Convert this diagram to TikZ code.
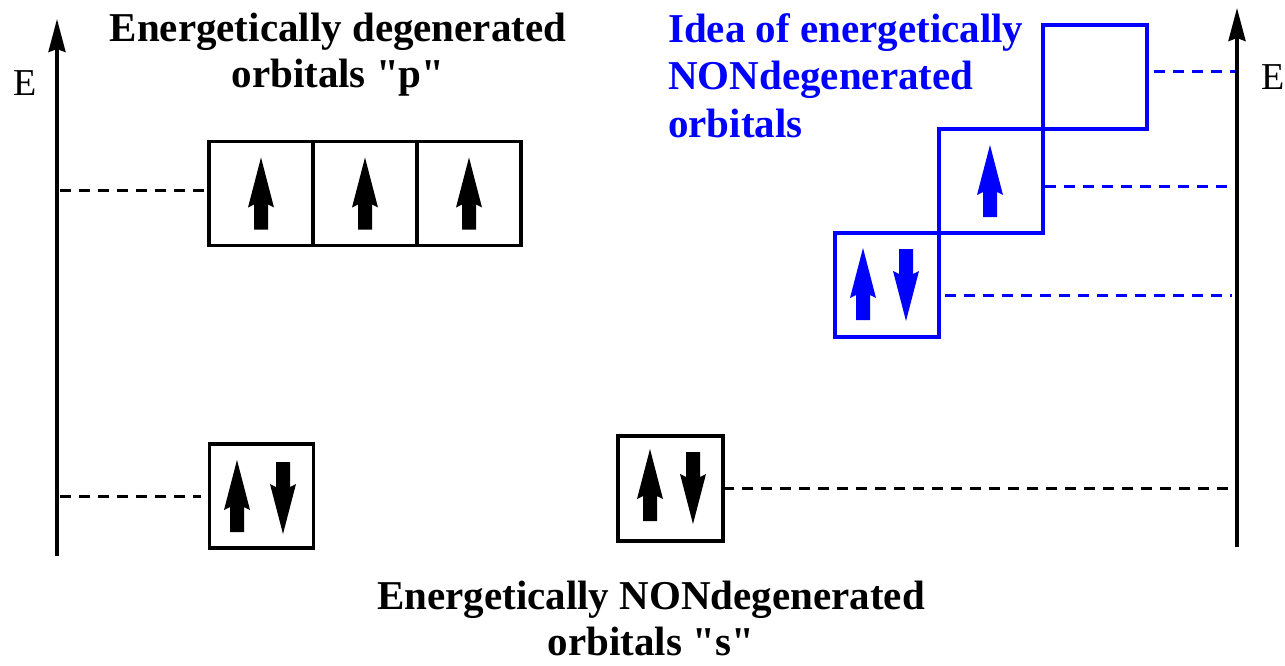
\documentclass[tikz,border=0pt]{standalone}
\usepackage{fontspec}
\setmainfont{Liberation Serif}
\usetikzlibrary{arrows.meta, calc, positioning}
\tikzset{
    orb/.style = {draw, line width=3.5pt, minimum width=104pt, minimum height=104pt, inner sep=0pt, outer sep=0pt},
    level/.style = {line width=3pt, dash pattern=on 11pt off 8pt},
    axis/.style = {line width=3.5pt, -{Stealth[length=33pt, width=17pt, inset=3pt]}},
    title/.style = {font=\fontsize{41}{46}\selectfont\bfseries, inner sep=0pt, align=center},
    elabel/.style = {font=\fontsize{38}{40}\selectfont, inner sep=0pt},
    spin/.pic = {\fill (-7,36) -- (-7,11) -- (-13,14) -- (0,-36) -- (13,14) -- (7,11) -- (7,36) -- cycle;}
}
\begin{document}
\begin{tikzpicture}[x=1pt, y=-1pt]
  \useasboundingbox (0,0) rectangle (1285,666);

  % energy axes
  \coordinate (l0) at (57,556);
  \coordinate (l1) at (57,19);
  \coordinate (r0) at (1237,547);
  \coordinate (r1) at (1237,8);
  \draw[axis] (l0) -- (l1);
  \draw[axis] (r0) -- (r1);
  \node[elabel] (el) at (25,83) {E};
  \node[elabel] (er) at (1273,77) {E};

  % degenerated p orbitals
  \node[title, anchor=north] (tp) at (338,13) {Energetically degenerated\\orbitals \textquotedbl p\textquotedbl};
  \node[orb] (p1) at (261,193.5) {};
  \node[orb, right=0pt of p1] (p2) {};
  \node[orb, right=0pt of p2] (p3) {};
  \pic at (p1) {spin};
  \pic at (p2) {spin};
  \pic at (p3) {spin};
  \draw[level] ($(l1 |- p1.west)+(3,-3)$) -- ($(p1.west)+(-4,-3)$);

  % s orbitals
  \node[orb] (s1) at (261.5,496) {};
  \pic at (237,496) {spin};
  \pic[rotate=180] at (283,498) {spin};
  \draw[level] ($(l1 |- s1.west)+(3,0)$) -- ($(s1.west)+(-9,0)$);

  \node[orb, minimum width=105pt, minimum height=105pt] (s2) at (670.5,488.5) {};
  \pic at (650,485) {spin};
  \pic[rotate=180] at (693,488) {spin};
  \draw[level] (s2.east) -- (r1 |- s2.east);

  \node[title, anchor=north] (ts) at (651,581) {Energetically NONdegenerated\\orbitals \textquotedbl s\textquotedbl};

  % idea of nondegenerated p orbitals
  \node[title, blue, align=left, anchor=north west, font=\fontsize{41}{47.5}\selectfont\bfseries] (ti) at (668,13)
    {Idea of energetically\\NONdegenerated\\orbitals};
  \node[orb, blue] (b1) at (887,285) {};
  \node[orb, blue, above right=0pt and 0pt of b1] (b2) {};
  \node[orb, blue, above right=0pt and 0pt of b2] (b3) {};
  \pic[blue] at (863,284) {spin};
  \pic[blue, rotate=180] at (906,285) {spin};
  \pic[blue] at (990,181) {spin};
  \draw[level, blue] ($(b1.east)+(6,10)$) -- ($(r1 |- b1.east)+(-5,10)$);
  \draw[level, blue] ($(b2.east)+(2,5)$) -- ($(r1 |- b2.east)+(-5,5)$);
  \draw[level, blue] ($(b3.east)+(7,-5.5)$) -- ($(r1 |- b3.east)+(-2,-5.5)$);
\end{tikzpicture}
\end{document}
